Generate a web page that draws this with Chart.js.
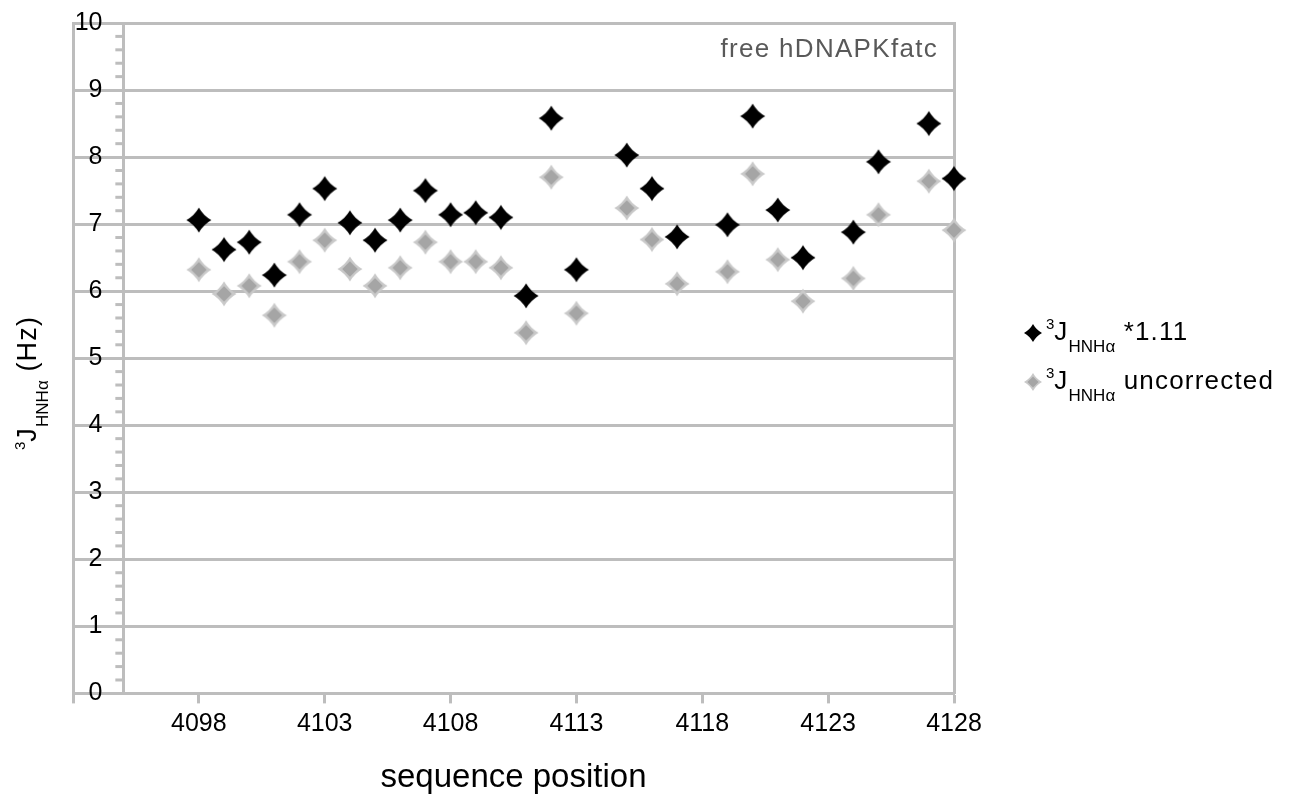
<!DOCTYPE html>
<html>
<head>
<meta charset="utf-8">
<script src="https://cdn.jsdelivr.net/npm/chart.js@4.4.1/dist/chart.umd.min.js"></script>
<style>
  body { margin: 0; background: #fff; font-family: "Liberation Sans", Arial, sans-serif; color: #000; }
  #wrap { position: relative; width: 1303px; height: 801px; overflow: hidden; }
  #chart { position: absolute; left: 0; top: 0; }
  .txt { position: absolute; white-space: nowrap; line-height: 1; font-size: 26px; letter-spacing: 1.2px; }
  .sup { position: relative; font-size: 15px; top: -11px; letter-spacing: 0; }
  .sub { position: relative; font-size: 17px; top: 12px; letter-spacing: 0; }
  .ytitle { left: 14px; top: 450px; font-size: 27px; transform-origin: 0 0; transform: rotate(-90deg); }
  .mk { position: absolute; }
</style>
</head>
<body>
<div id="wrap">
  <canvas id="chart" width="1303" height="801"></canvas>
  <div class="txt ytitle"><span class="sup">3</span>J<span class="sub">HNHα</span> (Hz)</div>
  <canvas class="mk" id="mk1" width="20" height="20" style="left:1023px;top:323px"></canvas>
  <div class="txt" style="left:1046px;top:318px"><span class="sup">3</span>J<span class="sub">HNHα</span> *1.11</div>
  <canvas class="mk" id="mk2" width="20" height="20" style="left:1023px;top:372px"></canvas>
  <div class="txt" style="left:1046px;top:367px"><span class="sup">3</span>J<span class="sub">HNHα</span> uncorrected</div>
</div>
<script>
// residues that have a value
const positions = [4098, 4099, 4100, 4101, 4102, 4103, 4104, 4105, 4106, 4107, 4108, 4109, 4110, 4111,
  4112, 4113, 4115, 4116, 4117, 4119, 4120, 4121, 4122, 4124, 4125, 4127, 4128];
// 3J(HNHa) * 1.11
const jCorrected = [7.06, 6.62, 6.73, 6.24, 7.14, 7.53, 7.02, 6.76, 7.06, 7.50, 7.14, 7.17, 7.10, 5.93,
  8.58, 6.32, 8.03, 7.53, 6.81, 6.99, 8.61, 7.21, 6.50, 6.88, 7.93, 8.50, 7.68];
// 3J(HNHa) uncorrected
const jUncorrected = [6.32, 5.96, 6.08, 5.64, 6.44, 6.76, 6.33, 6.08, 6.35, 6.73, 6.44, 6.44, 6.35, 5.38,
  7.70, 5.67, 7.24, 6.77, 6.11, 6.29, 7.75, 6.47, 5.85, 6.19, 7.14, 7.64, 6.91];

const xTickValues = [4093, 4098, 4103, 4108, 4113, 4118, 4123, 4128];
const xMin = 4093;
const xMax = 4128;
const yMin = 0;
const yMax = 10;
const yAxisCross = 4095;   // value axis sits here, not at the left edge
const minorStep = 0.2;
const panelLabel = "free hDNAPKfatc";
const xTitle = "sequence position";

const gridColor = "#bdbdbd";
const font = '"Liberation Sans", Arial, sans-serif';

// Excel-like diamond with slightly pinched sides
function diamond(g, cx, cy, r, color, k) {
  g.beginPath();
  g.moveTo(cx, cy - r);
  g.quadraticCurveTo(cx + r * k, cy - r * k, cx + r, cy);
  g.quadraticCurveTo(cx + r * k, cy + r * k, cx, cy + r);
  g.quadraticCurveTo(cx - r * k, cy + r * k, cx - r, cy);
  g.quadraticCurveTo(cx - r * k, cy - r * k, cx, cy - r);
  g.closePath();
  g.fillStyle = color;
  g.fill();
}

function blackMarker(c, size) {
  const g = c.getContext("2d");
  diamond(g, c.width / 2, c.height / 2, size / 2, "#000", 0.36);
  return c;
}

function grayMarker(c, size) {
  const g = c.getContext("2d");
  diamond(g, c.width / 2, c.height / 2, size / 2, "#c9c9c9", 0.36);
  diamond(g, c.width / 2, c.height / 2, size * 0.31, "#a5a5a5", 0.5);
  return c;
}

function newCanvas(n) {
  const c = document.createElement("canvas");
  c.width = n;
  c.height = n;
  return c;
}

const ptBlack = blackMarker(newCanvas(28), 25);
const ptGray = grayMarker(newCanvas(28), 25);
blackMarker(document.getElementById("mk1"), 18);
grayMarker(document.getElementById("mk2"), 18);

// minor ticks on the inner value axis
const innerAxisTicks = {
  id: "innerAxisTicks",
  afterDraw(chart) {
    const ctx = chart.ctx;
    const x = chart.scales.x.getPixelForValue(yAxisCross);
    const y = chart.scales.y;
    const n = Math.round((yMax - yMin) / minorStep);
    ctx.save();
    ctx.strokeStyle = gridColor;
    ctx.lineWidth = 3;
    for (let i = 1; i < n; i++) {
      if (i % 5 === 0) continue;
      const py = y.getPixelForValue(yMin + i * minorStep);
      ctx.beginPath();
      ctx.moveTo(x - 8, py);
      ctx.lineTo(x, py);
      ctx.stroke();
    }
    ctx.restore();
  },
};

const cornerLabel = {
  id: "cornerLabel",
  afterDraw(chart) {
    const { ctx, chartArea } = chart;
    ctx.save();
    ctx.font = "26px " + font;
    if ("letterSpacing" in ctx) ctx.letterSpacing = "1.3px";
    ctx.fillStyle = "#595959";
    ctx.textAlign = "right";
    ctx.textBaseline = "middle";
    ctx.fillText(panelLabel, chartArea.right - 16, chartArea.top + 27);
    ctx.restore();
  },
};

Chart.defaults.font.family = font;
Chart.defaults.color = "#000";

const ctx = document.getElementById("chart").getContext("2d");
new Chart(ctx, {
  type: "scatter",
  data: {
    datasets: [
      {
        label: "3J HNHa *1.11",
        data: positions.map((p, i) => ({ x: p, y: jCorrected[i] })),
        pointStyle: ptBlack,
        pointRadius: 12,
        clip: false,
      },
      {
        label: "3J HNHa uncorrected",
        data: positions.map((p, i) => ({ x: p, y: jUncorrected[i] })),
        pointStyle: ptGray,
        pointRadius: 12,
        clip: false,
      },
    ],
  },
  options: {
    responsive: false,
    animation: false,
    events: [],
    layout: { padding: { left: 73, right: 349, top: 23, bottom: 0 } },
    plugins: {
      legend: { display: false },
      tooltip: { enabled: false },
    },
    scales: {
      x: {
        type: "linear",
        position: "bottom",
        min: xMin,
        max: xMax,
        afterBuildTicks: (scale) => {
          scale.ticks = xTickValues.map((v) => ({ value: v }));
        },
        ticks: {
          autoSkip: false,
          maxRotation: 0,
          padding: 6,
          font: { size: 25 },
          callback: (v) => (v === xMin ? "" : String(v)),
        },
        grid: {
          drawOnChartArea: false,
          drawTicks: true,
          tickLength: 10,
          tickColor: gridColor,
          tickWidth: 3,
        },
        border: { display: true, color: gridColor, width: 3 },
        title: {
          display: true,
          text: xTitle,
          font: { size: 33 },
          padding: { top: 13, bottom: 3 },
        },
      },
      y: {
        type: "linear",
        position: "left",
        min: yMin,
        max: yMax,
        ticks: { display: false, stepSize: 1 },
        grid: { color: gridColor, lineWidth: 3, drawTicks: false },
        border: { display: true, color: gridColor, width: 3 },
      },
      yInner: {
        type: "linear",
        axis: "y",
        position: { x: yAxisCross },
        min: yMin,
        max: yMax,
        ticks: {
          stepSize: 1,
          font: { size: 25 },
          callback: (v) => v + "   ",
        },
        grid: { drawOnChartArea: false, drawTicks: false },
        border: { display: true, color: gridColor, width: 3 },
      },
      yRight: {
        type: "linear",
        position: "right",
        min: yMin,
        max: yMax,
        ticks: { display: false },
        grid: { drawOnChartArea: false, drawTicks: false },
        border: { display: true, color: gridColor, width: 3 },
      },
    },
  },
  plugins: [innerAxisTicks, cornerLabel],
});
</script>
</body>
</html>
